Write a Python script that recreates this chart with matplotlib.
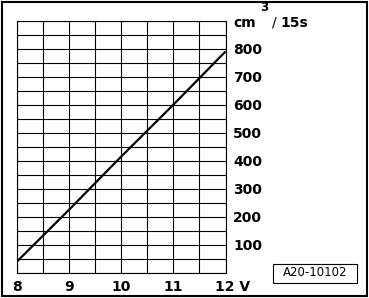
import matplotlib.pyplot as plt
from matplotlib.patches import Rectangle
import numpy as np

# Data
voltage = [8, 9, 10, 11, 12]
flow = [40, 225, 415, 600, 790]
y_ticks = [100, 200, 300, 400, 500, 600, 700, 800]
x_ticks = [8, 9, 10, 11, 12]
x_labels = ["8", "9", "10", "11", ""]
doc_id = "A20-10102"

plt.rcParams["font.family"] = ["DejaVu Sans"]

W, H = 369, 298
fig = plt.figure(figsize=(W / 100, H / 100), dpi=100)
ax = fig.add_axes([17 / W, (H - 272.7) / H, 208.5 / W, 252 / H])

ax.set_xlim(8, 12)
ax.set_ylim(0, 900)

# grid every 0.5 V and every 50 units
for xv in np.arange(8, 12.01, 0.5):
    ax.axvline(xv, color="black", lw=0.8)
for yv in np.arange(0, 901, 50):
    ax.axhline(yv, color="black", lw=0.8)

ax.plot(voltage, flow, color="black", lw=1.6, solid_capstyle="butt")

for s in ax.spines.values():
    s.set_linewidth(0.8)

ax.set_xticks(x_ticks)
ax.set_xticklabels(x_labels, fontsize=10, fontweight="bold")
ax.yaxis.tick_right()
ax.set_yticks(y_ticks)
ax.set_yticklabels([str(v) for v in y_ticks], fontsize=10, fontweight="bold")
ax.tick_params(length=0)
ax.tick_params(axis="y", pad=5.5)
ax.tick_params(axis="x", pad=5)

# unit labels (baseline positions in pixels from top)
fig.text(215 / W, 1 - 291 / H, "12 V", fontsize=10, fontweight="bold", va="baseline", ha="left")
fig.text(233 / W, 1 - 27 / H, "cm", fontsize=10, fontweight="bold", va="baseline", ha="left")
fig.text(260 / W, 1 - 11 / H, "3", fontsize=8.5, fontweight="bold", va="baseline", ha="left")
fig.text(271.5 / W, 1 - 27 / H, "/", fontsize=10, va="baseline", ha="left")
fig.text(280.5 / W, 1 - 27 / H, "15s", fontsize=10, fontweight="bold", va="baseline", ha="left")

# document id box
fig.patches.append(Rectangle((273 / W, 1 - 283 / H), 84 / W, 19 / H, transform=fig.transFigure,
                             fill=False, edgecolor="black", lw=0.8))
fig.text(315 / W, 1 - 276.5 / H, doc_id, fontsize=8.5, va="baseline", ha="center")

# outer frame
fig.patches.append(Rectangle((1.5 / W, 2.5 / H), (W - 3.5) / W, (H - 4.5) / H, transform=fig.transFigure,
                             fill=False, edgecolor="black", lw=1.5))

fig.savefig("out.png", dpi=100)
